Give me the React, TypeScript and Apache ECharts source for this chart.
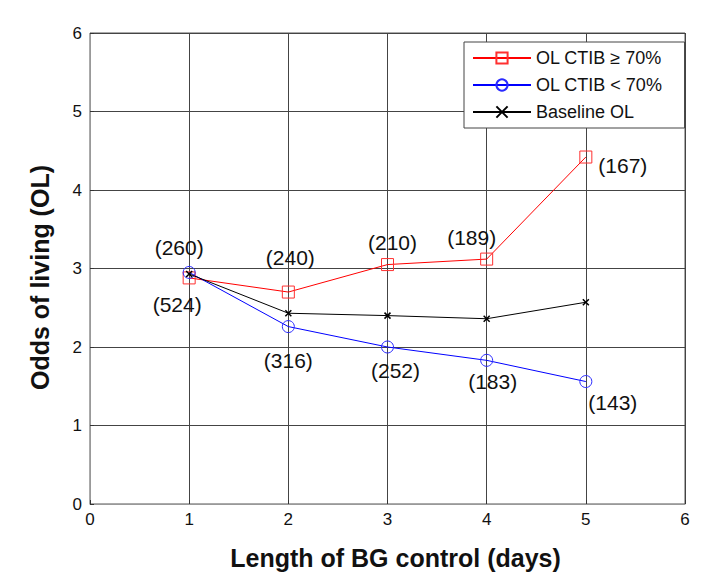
import React, { useEffect, useRef } from "react";
import * as echarts from "echarts";

const days = [1, 2, 3, 4, 5];
const highValues = [2.88, 2.7, 3.05, 3.12, 4.42];
const lowValues = [2.95, 2.26, 2.0, 1.83, 1.56];
const baseValues = [2.93, 2.43, 2.4, 2.36, 2.57];
const highCounts = [260, 240, 210, 189, 167];
const lowCounts = [524, 316, 252, 183, 143];
const xTicks = [0, 1, 2, 3, 4, 5, 6];
const yTicks = [0, 1, 2, 3, 4, 5, 6];

const highOffsets = [[-10, -30], [2, -35], [5, -22], [-15, -22], [37, 8]];
const lowOffsets = [[-12, 32], [0, 34], [8, 23], [6, 21], [27, 21]];

const FONT = "'Liberation Sans', Arial, Helvetica, sans-serif";

export default function App() {
  const ref = useRef<HTMLDivElement>(null);
  useEffect(() => {
    if (!ref.current) return;
    const chart = echarts.init(ref.current, undefined, { renderer: "svg" });
    const mkData = (vals: number[], counts?: number[], offs?: number[][]) =>
      days.map((d, i) => {
        const item: any = { value: [d, vals[i]] };
        if (counts && offs) {
          item.label = {
            show: true,
            position: "inside",
            align: "center",
            verticalAlign: "middle",
            offset: offs[i],
            formatter: `(${counts[i]})`,
            fontSize: 21,
            color: "#111",
            fontFamily: FONT,
          };
        }
        return item;
      });
    chart.setOption({
      animation: false,
      backgroundColor: "#fff",
      grid: { left: 90, right: 39, top: 33, bottom: 83, show: false },
      legend: {
        left: 464,
        top: 42,
        orient: "vertical",
        backgroundColor: "#fff",
        borderColor: "#444",
        borderWidth: 1,
        borderRadius: 0,
        padding: [7, 22, 7, 8],
        itemGap: 9,
        itemWidth: 58,
        itemHeight: 14,
        textStyle: { fontSize: 18, color: "#111", fontFamily: FONT },
        data: ["OL CTIB ≥ 70%", "OL CTIB < 70%", "Baseline OL"],
      },
      xAxis: {
        type: "value",
        min: 0,
        max: 6,
        interval: 1,
        name: "Length of BG control (days)",
        nameLocation: "middle",
        nameGap: 41,
        nameTextStyle: { fontSize: 25, fontWeight: "bold", color: "#111", fontFamily: FONT, padding: [0, 0, 0, 16] },
        axisLine: { show: true, lineStyle: { color: "#999", width: 1 } },
        axisTick: { show: true, inside: true, length: 4, lineStyle: { color: "#333" } },
        axisLabel: { fontSize: 17, color: "#111", fontFamily: FONT, margin: 7, formatter: (v: number) => (xTicks.includes(v) ? String(v) : "") },
        splitLine: { show: true, lineStyle: { color: "#444", width: 1 } },
      },
      yAxis: {
        type: "value",
        min: 0,
        max: 6,
        interval: 1,
        name: "Odds of living (OL)",
        nameLocation: "middle",
        nameGap: 38,
        nameTextStyle: { fontSize: 25, fontWeight: "bold", color: "#111", fontFamily: FONT, padding: [0, 18, 0, 0] },
        axisLine: { show: true, lineStyle: { color: "#999", width: 1 } },
        axisTick: { show: true, inside: true, length: 4, lineStyle: { color: "#333" } },
        axisLabel: { fontSize: 17, color: "#111", fontFamily: FONT, margin: 8, formatter: (v: number) => (yTicks.includes(v) ? String(v) : "") },
        splitLine: { show: true, lineStyle: { color: "#444", width: 1 } },
      },
      series: [
        {
          name: "OL CTIB ≥ 70%",
          type: "line",
          data: mkData(highValues, highCounts, highOffsets),
          symbol: "rect",
          symbolSize: 12,
          lineStyle: { color: "#ff0000", width: 1 },
          itemStyle: { color: "rgba(0,0,0,0)", borderColor: "#ff3030", borderWidth: 1 },
          z: 3,
        },
        {
          name: "OL CTIB < 70%",
          type: "line",
          data: mkData(lowValues, lowCounts, lowOffsets),
          symbol: "circle",
          symbolSize: 12,
          lineStyle: { color: "#0000ff", width: 1 },
          itemStyle: { color: "rgba(0,0,0,0)", borderColor: "#2a2aff", borderWidth: 1 },
          z: 3,
        },
        {
          name: "Baseline OL",
          type: "line",
          data: mkData(baseValues),
          symbol: "path://M0,0L10,10M10,0L0,10",
          symbolSize: 6,
          lineStyle: { color: "#000", width: 1 },
          itemStyle: { color: "rgba(0,0,0,0)", borderColor: "#000", borderWidth: 1.5 },
          z: 4,
        },
      ],
      graphic: [
        {
          type: "rect",
          shape: { x: 90, y: 33, width: 595, height: 471 },
          style: { fill: "none", stroke: "#555", lineWidth: 1 },
          silent: true,
          z: -1,
        },
      ],
    });
    return () => chart.dispose();
  }, []);
  return <div ref={ref} style={{ position: "absolute", left: 0, top: 0, width: 724, height: 587 }} />;
}
